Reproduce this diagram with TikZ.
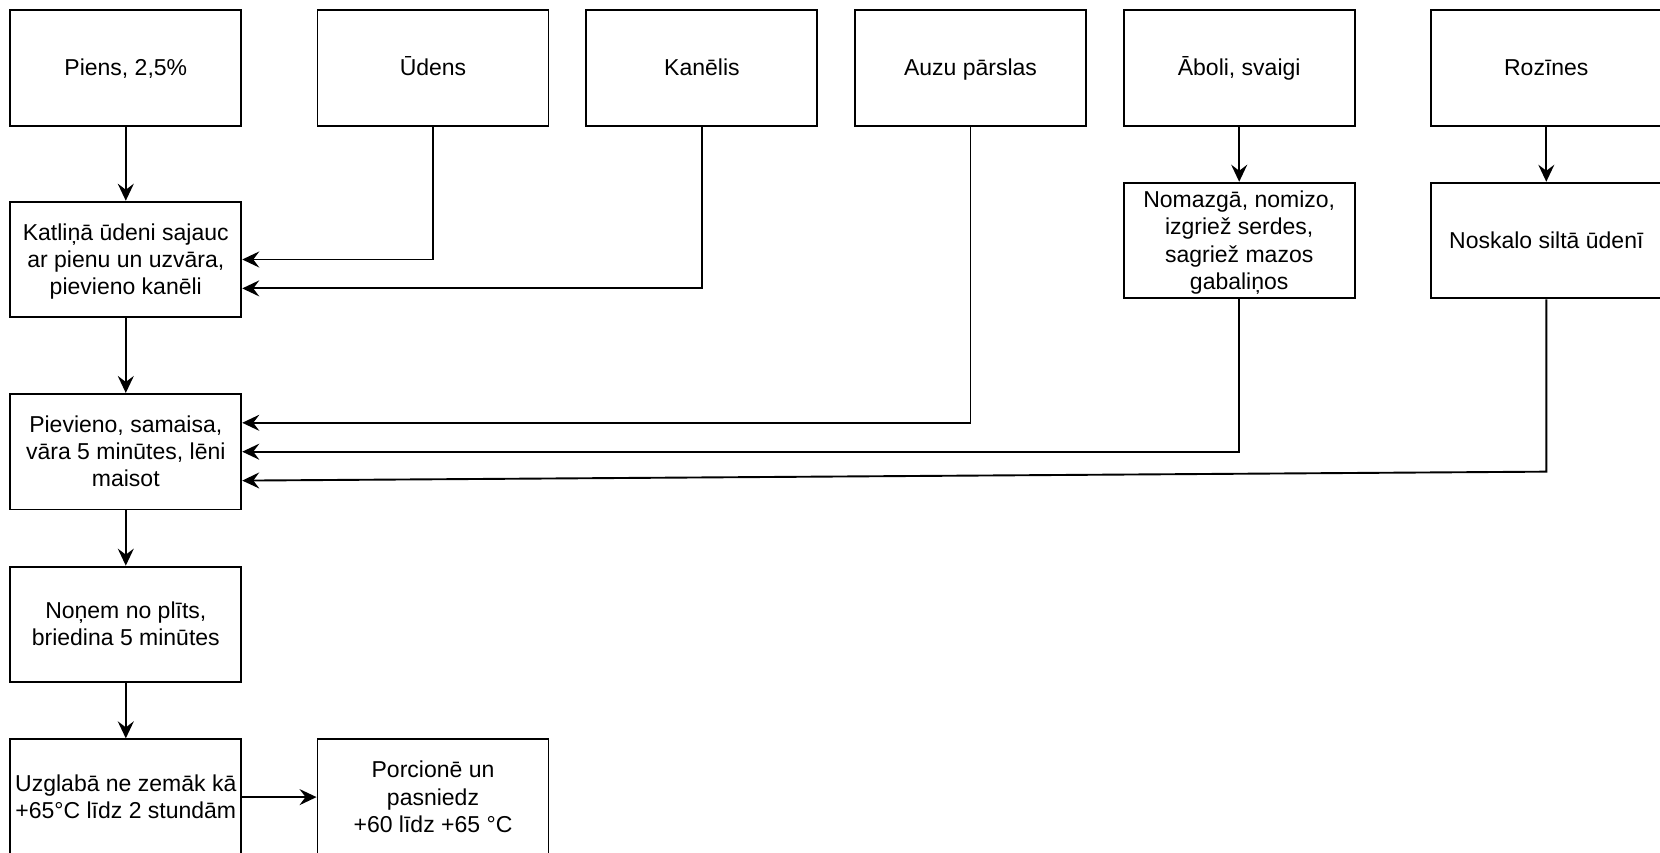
\documentclass[tikz,border=0pt]{standalone}
\usepackage{fontspec}
\setmainfont{Liberation Sans}
\usetikzlibrary{arrows.meta}
\newcommand\lnst{\rule[-5.7pt]{0pt}{27.2pt}}
\begin{document}
\begin{tikzpicture}[x=1pt,y=-1pt,
  box/.style={draw=black, line width=1.9pt, minimum width=231pt, minimum height=115.6pt,
    inner sep=0pt, align=center, font=\fontsize{23}{27.2}\selectfont},
  arr/.style={draw=black, line width=1.9pt, -{Stealth[length=17pt,width=16pt,inset=6pt]}}]
\useasboundingbox (0,0) rectangle (1660,853);
% top row
\node[box] (piens) at (125.8,67.9) {\lnst Piens, 2,5\%};
\node[box] (udens) at (433,67.9) {\lnst Ūdens};
\node[box] (kan) at (701.9,67.9) {\lnst Kanēlis};
\node[box] (auzu) at (970.5,67.9) {\lnst Auzu pārslas};
\node[box] (abol) at (1239.2,67.9) {\lnst Āboli, svaigi};
\node[box] (roz) at (1546.3,67.9) {\lnst Rozīnes};
% second row
\node[box] (katl) at (125.8,259.5) {\lnst Katliņā ūdeni sajauc\\\lnst ar pienu un uzvāra,\\\lnst pievieno kanēli};
\node[box] (nomaz) at (1239.2,240.5) {\lnst Nomazgā, nomizo,\\\lnst izgriež serdes,\\\lnst sagriež mazos\\\lnst gabaliņos};
\node[box] (nosk) at (1546.3,240.5) {\lnst Noskalo siltā ūdenī};
% column
\node[box] (piev) at (125.8,451.7) {\lnst Pievieno, samaisa,\\\lnst vāra 5 minūtes, lēni\\\lnst maisot};
\node[box] (nonem) at (125.8,624.4) {\lnst Noņem no plīts,\\\lnst briedina 5 minūtes};
\node[box] (uzgl) at (125.8,797.1) {\lnst Uzglabā ne zemāk kā\\\lnst +65°C līdz 2 stundām};
\node[box] (porc) at (433,797.1) {\lnst Porcionē un\\\lnst pasniedz\\\lnst +60 līdz +65 °C};
% helper coordinates
\path (katl.east) ++(0,28.9) coordinate (katlB);
\path (piev.east) ++(0,-28.9) coordinate (pievA);
\path (piev.east) ++(0,28.9) coordinate (pievC);
\path (nosk.south) ++(0,172.4) coordinate (rbend);
% connectors
\draw[arr] (piens) -- (katl);
\draw[arr] (udens.south) |- (katl.east);
\draw[arr] (kan.south) |- (katlB);
\draw[arr] (katl) -- (piev);
\draw[arr] (auzu.south) |- (pievA);
\draw[arr] (abol) -- (nomaz);
\draw[arr] (nomaz.south) |- (piev.east);
\draw[arr] (roz) -- (nosk);
\draw[arr] (nosk.south) -- (rbend) -- (pievC);
\draw[arr] (piev) -- (nonem);
\draw[arr] (nonem) -- (uzgl);
\draw[arr] (uzgl) -- (porc);
\end{tikzpicture}
\end{document}
